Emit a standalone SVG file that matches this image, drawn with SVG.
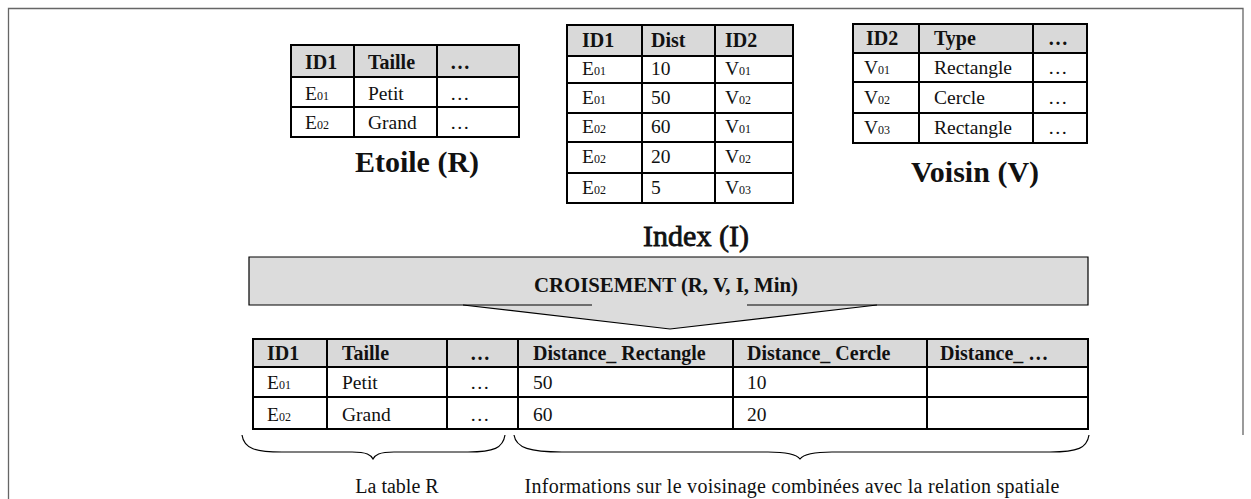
<svg xmlns="http://www.w3.org/2000/svg" width="1251" height="499" viewBox="0 0 1251 499">
<style>
text{font-family:"Liberation Serif","Times New Roman",serif;fill:#111}
.h{font-size:20px;font-weight:bold}
.b{font-size:20.8px;font-weight:bold}
.c{font-size:19.5px}
.l{font-size:20px}
.s{font-size:12px}
.t{font-size:30px;font-weight:bold}
.ti{font-size:30px;stroke:#111;stroke-width:0.8}
.hd{fill:#d9d9d9}
.grid{fill:none;stroke:#000;stroke-width:2}
.br{fill:none;stroke:#000;stroke-width:1.2}
</style>
<rect width="1251" height="499" fill="#fff"/>
<g id="frame"><path d="M8.5,499 V8.5 H1243 V435" fill="none" stroke="#666" stroke-width="1.3"/></g>

<g id="etoile">
<rect class="hd" x="291" y="45" width="228" height="32"/>
<rect class="grid" x="291" y="45" width="228" height="92"/>
<path class="grid" d="M291,77H519M291,107H519M354,45V137M437,45V137"/>
<text class="h" x="305" y="69">ID1</text><text class="h" x="368" y="69">Taille</text><text class="h" x="450" y="69">…</text>
<text class="c" x="305" y="100">E<tspan class="s">01</tspan></text><text class="c" x="368" y="100">Petit</text><text class="c" x="450" y="100">…</text>
<text class="c" x="305" y="129">E<tspan class="s">02</tspan></text><text class="c" x="368" y="129">Grand</text><text class="c" x="450" y="129">…</text>
<text class="t" x="417" y="172" text-anchor="middle">Etoile (R)</text>
</g>

<g id="index">
<rect class="hd" x="567" y="25" width="226" height="31"/>
<rect class="grid" x="567" y="25" width="226" height="178"/>
<path class="grid" d="M567,56H793M567,83H793M567,113H793M567,142H793M567,173H793M642,25V203M715,25V203"/>
<text class="h" x="582" y="47">ID1</text><text class="h" x="651" y="47">Dist</text><text class="h" x="725" y="47">ID2</text>
<text class="c" x="582" y="75">E<tspan class="s">01</tspan></text><text class="c" x="651" y="75">10</text><text class="c" x="725" y="75">V<tspan class="s">01</tspan></text>
<text class="c" x="582" y="104">E<tspan class="s">01</tspan></text><text class="c" x="651" y="104">50</text><text class="c" x="725" y="104">V<tspan class="s">02</tspan></text>
<text class="c" x="582" y="133">E<tspan class="s">02</tspan></text><text class="c" x="651" y="133">60</text><text class="c" x="725" y="133">V<tspan class="s">01</tspan></text>
<text class="c" x="582" y="163">E<tspan class="s">02</tspan></text><text class="c" x="651" y="163">20</text><text class="c" x="725" y="163">V<tspan class="s">02</tspan></text>
<text class="c" x="582" y="194">E<tspan class="s">02</tspan></text><text class="c" x="651" y="194">5</text><text class="c" x="725" y="194">V<tspan class="s">03</tspan></text>
<text class="ti" x="696" y="246" text-anchor="middle">Index (I)</text>
</g>

<g id="voisin">
<rect class="hd" x="853" y="24" width="234" height="29"/>
<rect class="grid" x="853" y="24" width="234" height="119"/>
<path class="grid" d="M853,53H1087M853,82H1087M853,113H1087M919,24V143M1033,24V143"/>
<text class="h" x="866" y="45">ID2</text><text class="h" x="934" y="45">Type</text><text class="h" x="1048" y="45">…</text>
<text class="c" x="864" y="74">V<tspan class="s">01</tspan></text><text class="c" x="934" y="74">Rectangle</text><text class="c" x="1048" y="74">…</text>
<text class="c" x="864" y="104">V<tspan class="s">02</tspan></text><text class="c" x="934" y="104">Cercle</text><text class="c" x="1048" y="104">…</text>
<text class="c" x="864" y="134">V<tspan class="s">03</tspan></text><text class="c" x="934" y="134">Rectangle</text><text class="c" x="1048" y="134">…</text>
<text class="t" x="975" y="182" text-anchor="middle">Voisin (V)</text>
</g>

<g id="croisement">
<path d="M249,257H1088V305H877L670,329L463,305H249Z" fill="#dcdcdc"/>
<path d="M592,305H249V257H1088V305H747" fill="none" stroke="#000" stroke-width="1.2"/>
<path d="M463,305L670,329L877,305" fill="none" stroke="#000" stroke-width="1.2"/>
<text class="b" x="666" y="292" text-anchor="middle">CROISEMENT (R, V, I, Min)</text>
</g>

<g id="resultat">
<rect class="hd" x="253" y="339" width="835" height="28"/>
<rect class="grid" x="253" y="339" width="835" height="90"/>
<path class="grid" d="M253,367H1088M253,397H1088M327,339V429M447,339V429M518,339V429M733,339V429M927,339V429"/>
<text class="h" x="267" y="360">ID1</text><text class="h" x="342" y="360">Taille</text><text class="h" x="470" y="360">…</text>
<text class="h" x="533" y="360">Distance_ Rectangle</text><text class="h" x="747" y="360">Distance_ Cercle</text><text class="h" x="940" y="360">Distance_ …</text>
<text class="c" x="267" y="389">E<tspan class="s">01</tspan></text><text class="c" x="342" y="389">Petit</text><text class="c" x="470" y="389">…</text><text class="c" x="533" y="389">50</text><text class="c" x="747" y="389">10</text>
<text class="c" x="267" y="421">E<tspan class="s">02</tspan></text><text class="c" x="342" y="421">Grand</text><text class="c" x="470" y="421">…</text><text class="c" x="533" y="421">60</text><text class="c" x="747" y="421">20</text>
</g>

<g id="connecteurs">
<path class="br" d="M242,435C244,449 256,452 282,452L352,452C367,452 371,455 373,459C375,455 379,452 394,452L468,452C494,452 503,448 505,435"/>
<path class="br" d="M514,435C516,448 530,452 562,452L768,452C790,452 797,455 800,459C803,455 810,452 832,452L1050,452C1078,452 1087,448 1089,435"/>
</g>

<g id="legendes">
<text class="l" x="397" y="493" text-anchor="middle">La table R</text>
<text class="l" x="792" y="493" text-anchor="middle" textLength="535" lengthAdjust="spacing">Informations sur le voisinage combinées avec la relation spatiale</text>
</g>
</svg>
